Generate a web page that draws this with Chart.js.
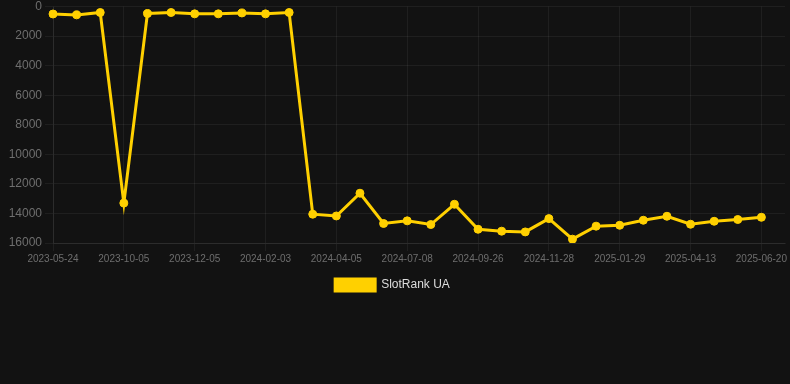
<!DOCTYPE html>
<html>
<head>
<meta charset="utf-8">
<script src="https://cdn.jsdelivr.net/npm/chart.js@4"></script>
<style>
  html, body { margin: 0; padding: 0; background: #121212; overflow: hidden; }
  #wrap { position: relative; width: 790px; height: 301px; }
</style>
</head>
<body>
<div id="wrap"><canvas id="rankChart"></canvas></div>
<script>
// Rank history, lower is better, so the y axis is reversed
const dates = [
  '2023-05-24', '2023-07-10', '2023-08-22', '2023-10-05', '2023-10-25', '2023-11-15',
  '2023-12-05', '2023-12-25', '2024-01-14', '2024-02-03', '2024-02-24', '2024-03-15',
  '2024-04-05', '2024-05-06', '2024-06-07', '2024-07-08', '2024-08-03', '2024-08-30',
  '2024-09-26', '2024-10-16', '2024-11-07', '2024-11-28', '2024-12-19', '2025-01-08',
  '2025-01-29', '2025-02-20', '2025-03-18', '2025-04-13', '2025-05-06', '2025-05-28',
  '2025-06-20', '2025-07-12'
];
const rankUA = [
  500, 560, 400, 13300, 470, 400,
  490, 490, 430, 490, 400, 14050,
  14170, 12630, 14680, 14500, 14750, 13380,
  15070, 15200, 15250, 14350, 15740, 14860,
  14800, 14460, 14190, 14730, 14530, 14410,
  14260, null
];
const yTicks = [0, 2000, 4000, 6000, 8000, 10000, 12000, 14000, 16000];

const gold = '#FFD000';
const gridColor = 'rgba(255,255,255,0.06)';
const tickColor = '#6e6e6e';

const ctx = document.getElementById('rankChart').getContext('2d');
new Chart(ctx, {
  type: 'line',
  data: {
    labels: dates,
    datasets: [{
      label: 'SlotRank UA',
      data: rankUA,
      borderColor: gold,
      backgroundColor: gold,
      borderWidth: 3,
      pointRadius: 4,
      pointBorderWidth: 1,
      pointBackgroundColor: gold,
      pointBorderColor: gold,
      tension: 0
    }]
  },
  options: {
    responsive: true,
    maintainAspectRatio: false,
    animation: false,
    layout: { padding: { left: 0, right: 5, top: 0, bottom: 0 } },
    scales: {
      x: {
        offset: false,
        grid: {
          color: (c) => (c.index % 3 === 0 ? gridColor : 'transparent')
        },
        border: { color: gridColor },
        ticks: {
          autoSkip: false,
          maxRotation: 0,
          color: tickColor,
          font: { family: 'Arial, "Liberation Sans", sans-serif', size: 10, lineHeight: 1.0 },
          callback: function (val, i) { return i % 3 === 0 ? this.getLabelForValue(val) : ''; }
        }
      },
      y: {
        reverse: true,
        min: yTicks[0],
        max: yTicks[yTicks.length - 1],
        afterBuildTicks: (axis) => { axis.ticks = yTicks.map(v => ({ value: v })); },
        afterFit: (axis) => { axis.width = 53; },
        grid: { color: gridColor },
        border: { color: gridColor },
        ticks: {
          color: tickColor,
          font: { family: 'Arial, "Liberation Sans", sans-serif', size: 12, lineHeight: 0.6 },
          callback: (v) => String(v)
        }
      }
    },
    plugins: {
      legend: {
        position: 'bottom',
        labels: {
          color: '#dddddd',
          boxWidth: 40,
          padding: 12,
          font: { family: 'Arial, "Liberation Sans", sans-serif', size: 12 }
        }
      },
      tooltip: { enabled: false }
    }
  }
});
</script>
</body>
</html>
